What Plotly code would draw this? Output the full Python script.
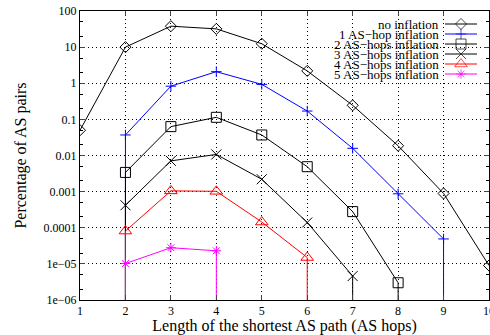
import plotly.graph_objects as go

# ---- data (percentage of AS pairs vs shortest AS path length) ----
# zeros stand for "no pairs"; gnuplot draws them as drops to the axis floor
hops_none = [1, 2, 3, 4, 5, 6, 7, 8, 9, 10]
pct_none = [0.05, 10, 38, 32, 12.4, 2.2, 0.245, 0.0186, 0.00089, 9e-6]

hops_1 = [2, 2, 3, 4, 5, 6, 7, 8, 9, 9]
pct_1 = [0, 0.037, 0.83, 2.09, 0.93, 0.17, 0.0158, 0.00087, 4.9e-5, 0]

hops_2 = [2, 2, 3, 4, 5, 6, 7, 8, 8]
pct_2 = [0, 0.0034, 0.063, 0.114, 0.037, 0.0049, 0.00028, 3e-6, 0]

hops_3 = [2, 2, 3, 4, 5, 6, 7, 7]
pct_3 = [0, 0.00042, 0.0071, 0.0107, 0.0022, 0.00014, 4.6e-6, 0]

hops_4 = [2, 2, 3, 4, 5, 6, 6]
pct_4 = [0, 8.1e-5, 0.00105, 0.00102, 0.000144, 1.5e-5, 0]

hops_5 = [2, 2, 3, 4, 4]
pct_5 = [0, 1.02e-5, 2.8e-5, 2.3e-5, 0]

names = ["no inflation", "1 AS\u2212hop inflation", "2 AS\u2212hops inflation",
         "3 AS\u2212hops inflation", "4 AS\u2212hops inflation", "5 AS\u2212hops inflation"]

y_tickvals = [1e-6, 1e-5, 1e-4, 1e-3, 1e-2, 1e-1, 1, 10, 100]
y_ticktext = ["1e\u221206", "1e\u221205", "0.0001", "0.001", "0.01", "0.1", "1", "10", "100"]
x_tickvals = [1, 2, 3, 4, 5, 6, 7, 8, 9, 10]

FLOOR = 1e-9  # where zero values are drawn (below the visible range)

series = [
    (hops_none, pct_none, names[0], "black", "diamond-open", 8.5),
    (hops_1, pct_1, names[1], "#0000ff", "cross-thin-open", 7.5),
    (hops_2, pct_2, names[2], "black", "square-open", 10),
    (hops_3, pct_3, names[3], "black", "x-thin-open", 10),
    (hops_4, pct_4, names[4], "#ff0000", "triangle-up-open", 11),
    (hops_5, pct_5, names[5], "#ff00ff", "asterisk-open", 8),
]

FONT = "Liberation Serif"
W, H = 490, 335
ML, MR, MT, MB = 80, 1, 11, 35
PW, PH = W - ML - MR, H - MT - MB

fig = go.Figure()
for xs, ys, name, color, sym, msize in series:
    fig.add_trace(go.Scatter(
        x=xs, y=[v if v > 0 else FLOOR for v in ys], name=name,
        mode="lines+markers", showlegend=False,
        line=dict(color=color, width=1),
        marker=dict(symbol=sym, size=msize, color=color, line=dict(color=color, width=1)),
    ))

# gnuplot-style key (text right-aligned, sample to its right), on a pixel overlay axis
KEY_TEXT_RIGHT = 360
KEY_SAMPLE = (365, 397)
KEY_TOP, KEY_STEP = 13, 10
for i, (xs, ys, name, color, sym, msize) in enumerate(series):
    ky = KEY_TOP + i * KEY_STEP
    fig.add_trace(go.Scatter(
        x=[KEY_SAMPLE[0], (KEY_SAMPLE[0] + KEY_SAMPLE[1]) / 2, KEY_SAMPLE[1]],
        y=[ky, ky, ky], xaxis="x2", yaxis="y2", showlegend=False, hoverinfo="skip",
        mode="lines+markers", line=dict(color=color, width=1),
        marker=dict(symbol=sym, size=[0, msize, 0], color=color, line=dict(color=color, width=1)),
    ))
    fig.add_annotation(x=KEY_TEXT_RIGHT, y=ky, xref="x2", yref="y2", text=name,
                       showarrow=False, xanchor="right", yanchor="middle", borderpad=0,
                       font=dict(size=13, family=FONT, color="black"))

fig.update_layout(
    width=W, height=H,
    margin=dict(l=ML, r=MR, t=MT, b=MB),
    paper_bgcolor="white", plot_bgcolor="white",
    font=dict(family=FONT, size=12, color="black"),
    showlegend=False,
    xaxis=dict(
        range=[1, 10], tickvals=x_tickvals, ticks="inside", ticklen=5,
        showline=True, linecolor="black", linewidth=1, mirror="ticks",
        showgrid=True, gridcolor="black", griddash="1px,3px", gridwidth=1,
        zeroline=False, automargin=False, ticklabeloverflow="allow",
        title=dict(text="Length of the shortest AS path (AS hops)", font=dict(size=16), standoff=0),
        tickfont=dict(size=12),
    ),
    yaxis=dict(
        type="log", range=[-6, 2], tickvals=y_tickvals, ticktext=y_ticktext,
        ticks="inside", ticklen=5,
        showline=True, linecolor="black", linewidth=1, mirror="ticks",
        showgrid=True, gridcolor="black", griddash="1px,3px", gridwidth=1,
        minor=dict(ticks="inside", ticklen=3, dtick="D2", showgrid=False, tickcolor="black"),
        zeroline=False, automargin=False, ticklabeloverflow="allow",
        title=dict(text="Percentage of AS pairs", font=dict(size=16), standoff=12),
        tickfont=dict(size=12),
    ),
    xaxis2=dict(overlaying="x", range=[0, PW], visible=False, fixedrange=True),
    yaxis2=dict(overlaying="y", range=[PH, 0], visible=False, fixedrange=True),
)
# drop the browser's default 8px body margin so the figure fills the window
fig.write_html("out.html", config={"displayModeBar": False},
               post_script="document.body.style.margin='0px';")
